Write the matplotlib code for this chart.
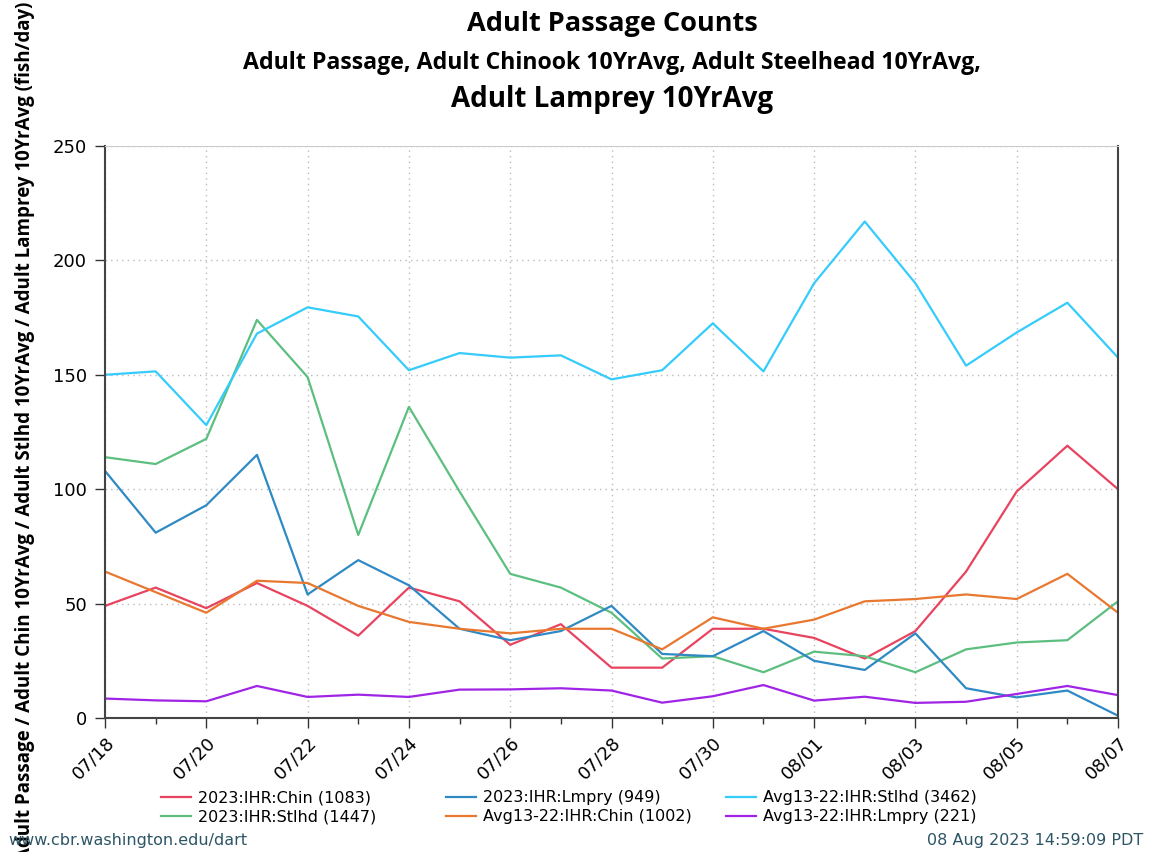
"""Adult passage counts chart (DART style) recreated with matplotlib."""

import numpy as np
import pandas as pd
import matplotlib
matplotlib.use('Agg')
import matplotlib.pyplot as plt
import matplotlib.dates as mdates

# --- data (fish/day) ---
dates = pd.date_range('2023-07-18', '2023-08-07', freq='D')

chin_2023 = [49, 57, 48, 59, 49, 36, 57, 51, 32, 41, 22, 22, 39, 39, 35, 26, 38, 64, 99, 119, 100]
stlhd_2023 = [114, 111, 122, 174, 149, 80, 136, 99, 63, 57, 46, 26, 27, 20, 29, 27, 20, 30, 33, 34, 51]
lmpry_2023 = [108, 81, 93, 115, 54, 69, 58, 39, 34, 38, 49, 28, 27, 38, 25, 21, 37, 13, 9, 12, 1]
chin_avg = [64, 55, 46, 60, 59, 49, 42, 39, 37, 39, 39, 30, 44, 39, 43, 51, 52, 54, 52, 63, 46]
stlhd_avg = [150, 151.5, 128, 168, 179.5, 175.5, 152, 159.5, 157.5, 158.5, 148, 152, 172.5, 151.5,
             190, 217, 190, 154, 168.5, 181.5, 157.5]
lmpry_avg = [8.5, 7.7, 7.3, 14, 9.2, 10.2, 9.2, 12.4, 12.5, 13, 12, 6.7, 9.5, 14.4, 7.6, 9.3,
             6.6, 7.1, 10.5, 14, 10]

series = [
    ('2023:IHR:Chin (1083)', chin_2023, '#e8435f'),
    ('2023:IHR:Stlhd (1447)', stlhd_2023, '#5cbf80'),
    ('2023:IHR:Lmpry (949)', lmpry_2023, '#2f8ac4'),
    ('Avg13-22:IHR:Chin (1002)', chin_avg, '#e8782f'),
    ('Avg13-22:IHR:Stlhd (3462)', stlhd_avg, '#35ccfb'),
    ('Avg13-22:IHR:Lmpry (221)', lmpry_avg, '#a024e6'),
]

title_font = ['Open Sans', 'DejaVu Sans']

# --- plot ---
fig = plt.figure(figsize=(11.53, 8.52), dpi=100)
ax = fig.add_axes([105 / 1153, 1 - 718 / 852, 1013 / 1153, 572 / 852])

for label, vals, color in series:
    ax.plot(dates, vals, color=color, linewidth=1.6, label=label)

ax.set_xlim(dates[0], dates[-1])
ax.set_ylim(0, 250)
ax.set_yticks(np.arange(0, 251, 50))
ax.xaxis.set_major_locator(mdates.DayLocator(interval=2))
ax.xaxis.set_minor_locator(mdates.DayLocator())
ax.xaxis.set_major_formatter(mdates.DateFormatter('%m/%d'))
ax.tick_params(axis='x', which='major', length=7, width=1, color='#333333',
               labelsize=13, pad=4)
ax.tick_params(axis='x', which='minor', length=4, width=1, color='#333333')
ax.tick_params(axis='y', length=7, width=1, color='#333333', labelsize=13, pad=6)
for lbl in ax.get_xticklabels():
    lbl.set_rotation(45)
    lbl.set_ha('right')
    lbl.set_rotation_mode('anchor')

ax.grid(True, which='major', linestyle=(0, (1, 3)), color='#bbbbbb', linewidth=1)
for side in ['left', 'bottom', 'right']:
    ax.spines[side].set_color('#444444')
    ax.spines[side].set_linewidth(1.5)
ax.spines['top'].set_color('#cccccc')

# titles
fig.text(612 / 1153, 1 - 24 / 852, 'Adult Passage Counts', ha='center', va='center',
         fontsize=19.5, fontweight='bold', family=title_font)
fig.text(612 / 1153, 1 - 63 / 852,
         'Adult Passage, Adult Chinook 10YrAvg, Adult Steelhead 10YrAvg,',
         ha='center', va='center', fontsize=16.7, fontweight='bold', family=title_font)
fig.text(612 / 1153, 1 - 99 / 852, 'Adult Lamprey 10YrAvg', ha='center', va='center',
         fontsize=20, fontweight='bold', family=title_font)

fig.text(25 / 1153, 1 - 431 / 852,
         'Adult Passage / Adult Chin 10YrAvg / Adult Stlhd 10YrAvg / Adult Lamprey 10YrAvg (fish/day)',
         rotation=90, ha='center', va='center', fontsize=13.5, fontweight='bold',
         family=title_font)

# legend: three fixed columns of two rows each
handles, labels = ax.get_legend_handles_labels()
col_x = [147, 432, 712]
for i, x0 in enumerate(col_x):
    fig.legend(handles[2 * i:2 * i + 2], labels[2 * i:2 * i + 2], loc='upper left',
               bbox_to_anchor=(x0 / 1153, 1 - 776 / 852), frameon=False,
               fontsize=11.5, handlelength=1.85, handletextpad=0.45,
               labelspacing=0.25)

fig.text(8 / 1153, 1 - 840 / 852, 'www.cbr.washington.edu/dart', ha='left', va='center',
         fontsize=11.5, color='#2d5566')
fig.text(1143 / 1153, 1 - 840 / 852, '08 Aug 2023 14:59:09 PDT', ha='right', va='center',
         fontsize=11.5, color='#2d5566')

fig.savefig('out.png', dpi=100)
